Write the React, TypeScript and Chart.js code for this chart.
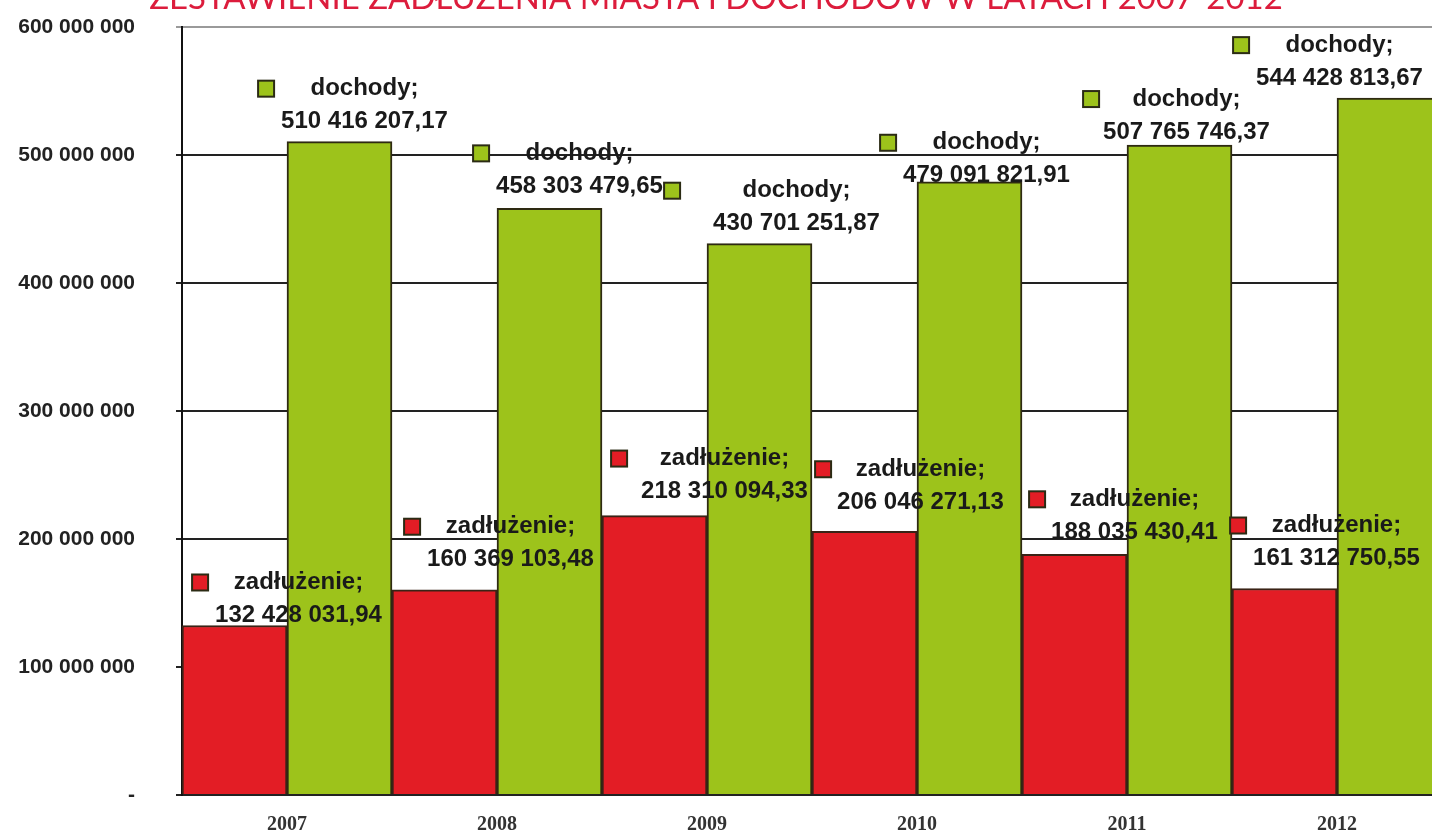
import { useEffect, useRef } from 'react';
import { Chart, registerables } from 'chart.js';

Chart.register(...registerables);

const TITLE = 'ZESTAWIENIE ZADŁUŻENIA MIASTA I DOCHODÓW W LATACH 2007-2012';
const YEARS = ['2007', '2008', '2009', '2010', '2011', '2012'];
const ZADLUZENIE = [132428031.94, 160369103.48, 218310094.33, 206046271.13, 188035430.41, 161312750.55];
const DOCHODY = [510416207.17, 458303479.65, 430701251.87, 479091821.91, 507765746.37, 544428813.67];
const SERIES_NAMES = ['zadłużenie;', 'dochody;'];
const Y_MIN = 0;
const Y_MAX = 600000000;
const Y_STEP = 100000000;

// Label placement (style): [dx from bar centre, value-line centre above bar top, key gap] in px
const LABEL_SHIFT: number[][][] = [
  [[64, 12, 23], [66, 32, 23], [70, 26, 30], [56, 31, 22], [60, 24, 22], [52, 32, 23]],
  [[25, 22, 23], [30, 24, 23], [37, 22, 49], [17, 8, 23], [7, 15, 20], [-50, 22, 23]],
];

const RED = '#e31d25';
const GREEN = '#9dc31b';
const LABEL_FONT = 'bold 24px "Liberation Sans", Arial, sans-serif';

function fmt(v: number, dec: number): string {
  const [i, d] = v.toFixed(dec).split('.');
  const g = i.replace(/\B(?=(\d{3})+(?!\d))/g, ' ');
  return d ? g + ',' + d : g;
}

const labelPlugin = {
  id: 'barLabels',
  afterDatasetsDraw(chart: any) {
    const ctx = chart.ctx as CanvasRenderingContext2D;
    ctx.save();
    ctx.font = LABEL_FONT;
    ctx.textAlign = 'center';
    ctx.textBaseline = 'middle';
    chart.data.datasets.forEach((ds: any, di: number) => {
      const meta = chart.getDatasetMeta(di);
      meta.data.forEach((el: any, i: number) => {
        const [dx, dy, gap] = LABEL_SHIFT[di][i];
        const cx = el.x + dx;
        const vy = el.y - dy + 2;
        const ly = vy - 33;
        const valueText = fmt(ds.data[i], 2);
        const w = ctx.measureText(valueText).width;
        ctx.fillStyle = '#1a1a1a';
        ctx.fillText(SERIES_NAMES[di], cx, ly);
        ctx.fillText(valueText, cx, vy);
        const sx = cx - w / 2 - gap;
        ctx.fillStyle = ds.backgroundColor;
        ctx.fillRect(sx, ly - 8, 16, 16);
        ctx.strokeStyle = '#2b2b14';
        ctx.lineWidth = 2;
        ctx.strokeRect(sx, ly - 8, 16, 16);
      });
    });
    ctx.restore();
  },
};

const titlePlugin = {
  id: 'clippedTitle',
  afterDraw(chart: any) {
    const ctx = chart.ctx as CanvasRenderingContext2D;
    ctx.save();
    ctx.font = '100px Lato, "Liberation Sans", sans-serif';
    const w = ctx.measureText(TITLE).width;
    const size = (100 * 1134) / w;
    ctx.font = `${size}px Lato, "Liberation Sans", sans-serif`;
    ctx.fillStyle = '#dc1c3c';
    ctx.textAlign = 'center';
    ctx.textBaseline = 'alphabetic';
    ctx.fillText(TITLE, 716, 9);
    ctx.restore();
  },
};

export default function App() {
  const ref = useRef<HTMLCanvasElement | null>(null);

  useEffect(() => {
    if (!ref.current) return;
    const chart = new Chart(ref.current, {
      type: 'bar',
      data: {
        labels: YEARS,
        datasets: [
          {
            label: 'zadłużenie',
            data: ZADLUZENIE,
            backgroundColor: RED,
            borderColor: '#3a2316',
            borderWidth: 2,
            categoryPercentage: 1,
            barPercentage: 1,
          },
          {
            label: 'dochody',
            data: DOCHODY,
            backgroundColor: GREEN,
            borderColor: '#2e2a12',
            borderWidth: 2,
            categoryPercentage: 1,
            barPercentage: 1,
          },
        ],
      },
      options: {
        responsive: false,
        animation: false,
        devicePixelRatio: 1,
        layout: { padding: { top: 27, right: 18, left: 0, bottom: 0 } },
        plugins: {
          legend: { display: false },
          tooltip: { enabled: false },
          title: { display: false },
        },
        scales: {
          x: {
            grid: { display: false },
            border: { display: true, color: '#222', width: 2 },
            ticks: {
              font: { family: '"Liberation Serif", "Times New Roman", serif', size: 20, weight: 'bold' },
              color: '#333',
              padding: 10,
            },
            afterFit: (s: any) => {
              s.height = 40;
              s.paddingLeft = 0;
              s.paddingRight = 0;
            },
          },
          y: {
            min: Y_MIN,
            max: Y_MAX,
            ticks: {
              stepSize: Y_STEP,
              padding: 41,
              color: '#222',
              font: { family: '"Liberation Sans", Arial, sans-serif', size: 21, weight: 'bold' },
              callback: (v: any) => (Number(v) === 0 ? '-' : fmt(Number(v), 0)),
            },
            grid: {
              color: (c: any) => (c.tick && c.tick.value === Y_MAX ? '#9a9a9a' : '#222'),
              lineWidth: 2,
              tickLength: 6,
            },
            border: { color: '#111', width: 2 },
            afterFit: (s: any) => {
              s.width = 182;
              s.paddingTop = 0;
              s.paddingBottom = 0;
            },
          },
        },
      },
      plugins: [labelPlugin, titlePlugin],
    } as any);
    return () => chart.destroy();
  }, []);

  return (
    <div
      style={{
        position: 'fixed',
        left: 0,
        top: 0,
        width: 1432,
        height: 835,
        overflow: 'hidden',
        background: '#fff',
      }}
    >
      <canvas ref={ref} width={1460} height={835} style={{ display: 'block', width: 1460, height: 835 }} />
    </div>
  );
}
